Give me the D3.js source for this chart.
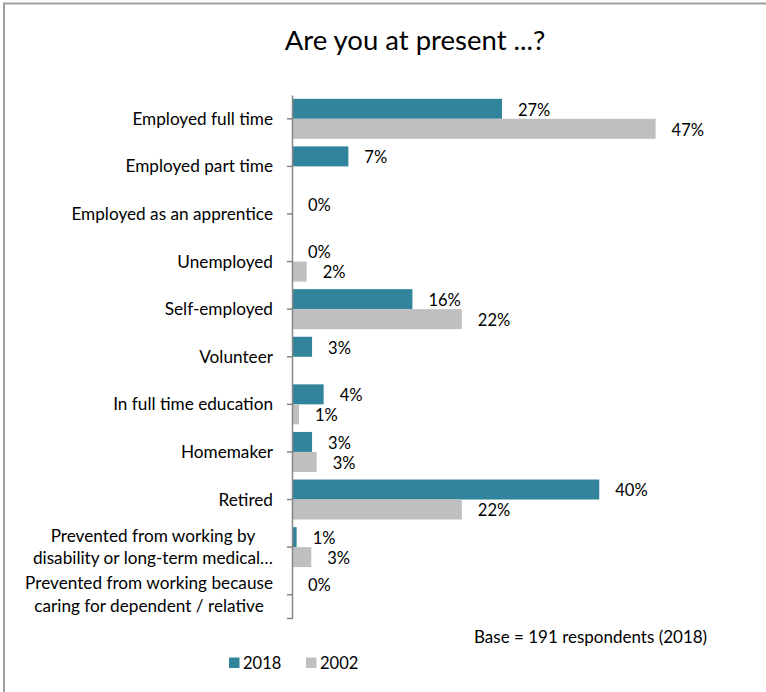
<!DOCTYPE html>
<html>
<head>
<meta charset="utf-8">
<script src="https://cdn.jsdelivr.net/npm/d3@7"></script>
<style>
  html, body { margin: 0; padding: 0; background: #fff; }
  svg { display: block; font-family: Lato, "Open Sans", sans-serif; }
</style>
</head>
<body>
<svg id="chart" width="766" height="692"></svg>
<script>
const categories = [
  "Employed full time",
  "Employed part time",
  "Employed as an apprentice",
  "Unemployed",
  "Self-employed",
  "Volunteer",
  "In full time education",
  "Homemaker",
  "Retired",
  "Prevented from working by\ndisability or long-term medical…",
  "Prevented from working because\ncaring for dependent / relative"
];
// percentages (labels show rounded values)
const values2018 = [27.2, 7.3, 0, 0, 15.6, 2.6, 4.1, 2.6, 39.8, 0.6, 0];
const values2002 = [47.1, null, null, 1.9, 22.0, null, 0.9, 3.2, 22.0, 2.5, null];
const seriesNames = ["2018", "2002"];
const colors = ["#31849B", "#BFBFBF"];
const titleText = "Are you at present ...?";
const noteText = "Base = 191 respondents (2018)";

const svg = d3.select("#chart");
const W = 766, H = 692;
const fs = 17.2;

// frame
svg.append("path")
  .attr("d", `M4,${H} L4,3.5 L${W},3.5`)
  .attr("fill", "none").attr("stroke", "#a0a0a0").attr("stroke-width", 2);

// title
svg.append("text")
  .attr("x", 415).attr("y", 50)
  .attr("text-anchor", "middle")
  .attr("font-size", 27.5).attr("fill", "#000")
  .text(titleText);

const x = d3.scaleLinear().domain([0, 50]).range([292, 292 + 386]);
const y = d3.scaleBand().domain(categories).range([95, 618.5]).paddingInner(0).paddingOuter(0);
const barH = y.bandwidth() * 0.42;
const fmt = v => Math.round(v) + "%";

const series = [values2018, values2002];
series.forEach((vals, si) => {
  const g = svg.append("g");
  const data = categories.map((c, i) => ({ c, v: vals[i] })).filter(d => d.v !== null);
  g.selectAll("rect").data(data).join("rect")
    .attr("x", x(0))
    .attr("y", d => y(d.c) + y.bandwidth() / 2 + (si === 0 ? -barH : 0))
    .attr("width", d => x(d.v) - x(0))
    .attr("height", barH)
    .attr("fill", colors[si]);
  g.selectAll("text").data(data).join("text")
    .attr("x", d => x(d.v) + 16)
    .attr("y", d => y(d.c) + y.bandwidth() / 2 + (si === 0 ? -barH / 2 : barH / 2) + 1)
    .attr("dy", "0.35em")
    .attr("font-size", 16.5).attr("fill", "#000")
    .text(d => fmt(d.v));
});

// axis
const axis = d3.axisLeft(y).tickSize(5).tickSizeOuter(0).tickFormat("");
const ag = svg.append("g").attr("transform", `translate(${x(0)},0)`).call(axis);
ag.selectAll("path, line").attr("stroke", "#868686").attr("stroke-width", 1.5);
ag.append("line")
  .attr("x1", -5).attr("x2", 0)
  .attr("y1", y.range()[1]).attr("y2", y.range()[1])
  .attr("stroke", "#868686").attr("stroke-width", 1.5);

// category labels
const labelRight = x(0) - 19;
const lineH = 22.5;
categories.forEach(c => {
  const lines = c.split("\n");
  const t = svg.append("text")
    .attr("font-size", fs).attr("fill", "#000");
  const cy = y(c) + y.bandwidth() / 2;
  lines.forEach((ln, i) => {
    t.append("tspan").attr("x", 0)
      .attr("y", cy + (i - (lines.length - 1) / 2) * lineH)
      .attr("dy", "0.35em").text(ln);
  });
  if (lines.length === 1) {
    t.attr("text-anchor", "end").selectAll("tspan").attr("x", labelRight);
  } else {
    const widths = [];
    t.selectAll("tspan").each(function () { widths.push(this.getComputedTextLength()); });
    const maxW = d3.max(widths);
    t.attr("text-anchor", "middle").selectAll("tspan").attr("x", labelRight - maxW / 2);
  }
});

// note
svg.append("text")
  .attr("x", 474).attr("y", 637).attr("dy", "0.35em")
  .attr("font-size", 17).attr("fill", "#000")
  .text(noteText);

// legend
const legend = svg.append("g");
const legX = [229, 306];
seriesNames.forEach((s, i) => {
  legend.append("rect").attr("x", legX[i]).attr("y", 657.5).attr("width", 10.5).attr("height", 10.5).attr("fill", colors[i]);
  legend.append("text").attr("x", legX[i] + 14).attr("y", 663).attr("dy", "0.35em")
    .attr("font-size", 16.5).attr("fill", "#000").text(s);
});
</script>
</body>
</html>
